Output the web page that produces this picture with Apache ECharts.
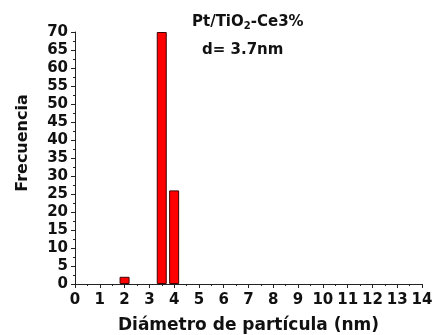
<!DOCTYPE html>
<html>
<head>
<meta charset="utf-8">
<script src="https://cdn.jsdelivr.net/npm/echarts@6/dist/echarts.min.js"></script>
<style>html,body{margin:0;padding:0;background:#fff}#c{width:434px;height:335px}</style>
</head>
<body>
<div id="c"></div>
<script>
var binCenters = [2, 3.5, 4];
var frequencies = [2, 70, 26];
var xTitle = 'Diámetro de partícula (nm)';
var yTitle = 'Frecuencia';
var sampleLabel = 'Pt/TiO';
var meanLabel = 'd= 3.7nm';

var chart = echarts.init(document.getElementById('c'), null, {renderer: 'canvas'});
var FONT = '"DejaVu Sans", sans-serif';
var data = binCenters.map(function (x, i) { return [x, frequencies[i]]; });

chart.setOption({
  animation: false,
  backgroundColor: '#fff',
  grid: {left: 75, right: 12, top: 32, bottom: 51, outerBoundsMode: 'none', containLabel: false},
  xAxis: {
    type: 'value', min: 0, max: 14, interval: 1,
    name: xTitle, nameLocation: 'middle', nameGap: 33,
    nameTextStyle: {fontFamily: FONT, fontWeight: 'bold', fontSize: 17, color: '#111'},
    axisLine: {show: true, lineStyle: {color: '#222', width: 1}},
    axisTick: {show: true, inside: false, length: 4, lineStyle: {color: '#222'}},
    minorTick: {show: true, splitNumber: 2, length: 2, lineStyle: {color: '#222'}},
    splitLine: {show: false},
    axisLabel: {margin: 9, fontFamily: FONT, fontWeight: 'bold', fontSize: 15, color: '#111'}
  },
  yAxis: {
    type: 'value', min: 0, max: 70, interval: 5,
    axisLine: {show: true, lineStyle: {color: '#222', width: 1}},
    axisTick: {show: true, inside: false, length: 4, lineStyle: {color: '#222'}},
    minorTick: {show: true, splitNumber: 2, length: 2, lineStyle: {color: '#222'}},
    splitLine: {show: false},
    axisLabel: {margin: 7, fontFamily: FONT, fontWeight: 'bold', fontSize: 15, color: '#111'}
  },
  series: [{
    type: 'bar',
    data: data,
    barWidth: 10,
    itemStyle: {color: '#ff0000', borderColor: '#400', borderWidth: 1}
  }],
  graphic: [
    {
      type: 'text', x: 23, y: 143, rotation: Math.PI / 2,
      style: {text: yTitle, fontFamily: FONT, fontWeight: 'bold', fontSize: 16, fill: '#111', align: 'center', verticalAlign: 'middle'}
    },
    {
      type: 'text', x: 192, y: 22,
      style: {
        text: '{a|' + sampleLabel + '}{s|2}{a|-Ce3%}',
        rich: {
          a: {fontFamily: FONT, fontWeight: 'bold', fontSize: 15, fill: '#111', verticalAlign: 'middle'},
          s: {fontFamily: FONT, fontWeight: 'bold', fontSize: 10, fill: '#111', padding: [8, 0, 0, 0]}
        },
        verticalAlign: 'middle'
      }
    },
    {
      type: 'text', x: 202, y: 50,
      style: {text: meanLabel, fontFamily: FONT, fontWeight: 'bold', fontSize: 15, fill: '#111', verticalAlign: 'middle'}
    }
  ]
});
</script>
</body>
</html>
